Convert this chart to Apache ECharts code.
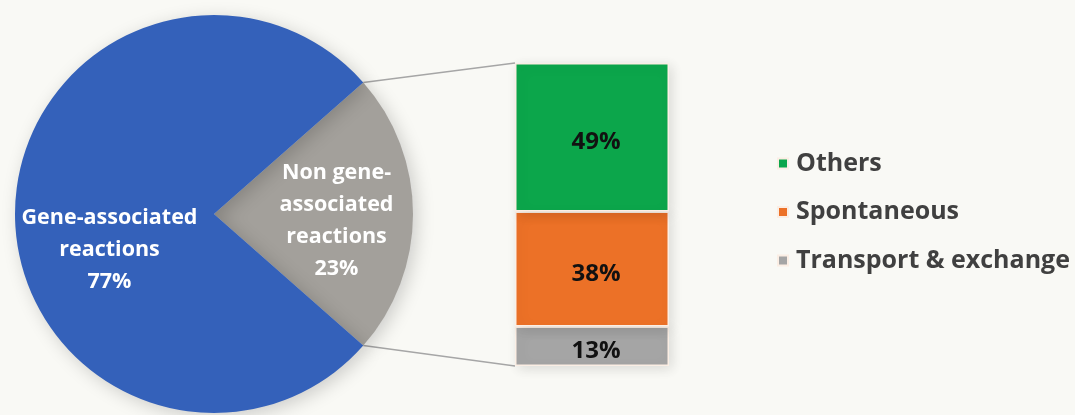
<!DOCTYPE html>
<html>
<head>
<meta charset="utf-8">
<script src="https://cdn.jsdelivr.net/npm/echarts@6/dist/echarts.min.js"></script>
<style>
html,body{margin:0;padding:0;background:#f9f9f5;}
#chart{width:1075px;height:415px;}
</style>
</head>
<body>
<div id="chart"></div>
<script>
const pieCategories = ['Non gene-associated reactions', 'Gene-associated reactions'];
const pieLabels = ['Non gene-\nassociated\nreactions', 'Gene-associated\nreactions'];
const pieValues = [23, 77];
const pieColors = ['#a3a09b', '#3461ba'];

const barCategories = ['Others', 'Spontaneous', 'Transport & exchange'];
const barValues = [49, 38, 13];
const barColors = ['#0ca64b', '#ec7127', '#a5a5a5'];

const chart = echarts.init(document.getElementById('chart'), null, {renderer: 'canvas'});

const pieCenter = [214, 214];
const pieRadius = 199;
const pieTotal = pieValues.reduce((a, b) => a + b, 0);
const halfAngle = pieValues[0] / pieTotal * 360 / 2;

const FONT = 'Open Sans';

// stacked series: bottom first
const barSeries = [];
for (let i = barCategories.length - 1; i >= 0; i--) {
  barSeries.push({
    name: barCategories[i],
    type: 'bar',
    stack: 'total',
    xAxisIndex: 0,
    yAxisIndex: 0,
    barWidth: '100%',
    data: [barValues[i]],
    itemStyle: {
      color: barColors[i],
      borderColor: '#fbeee4',
      borderWidth: 1.5,
      shadowBlur: 12,
      shadowColor: 'rgba(0,0,0,0.12)',
      shadowOffsetX: 3,
      shadowOffsetY: 3
    },
    label: {
      show: true,
      position: 'inside',
      formatter: p => p.value + '%',
      fontFamily: FONT,
      fontWeight: 'bold',
      fontSize: 24,
      color: '#111111',
      offset: [4, 5]
    },
    z: 3
  });
}

const option = {
  backgroundColor: '#f9f9f5',
  animation: false,
  grid: {left: 515, top: 63, width: 154, height: 303},
  xAxis: {type: 'category', data: ['sub'], show: false},
  yAxis: {type: 'value', min: 0, max: 100, show: false},
  legend: {
    orient: 'vertical',
    left: 777,
    top: 151,
    padding: 0,
    itemWidth: 10,
    itemHeight: 10,
    itemGap: 23.5,
    icon: 'rect',
    data: barCategories,
    textStyle: {
      fontFamily: FONT,
      fontWeight: 'bold',
      fontSize: 25,
      color: '#404040',
      padding: [0, 0, 0, 3]
    },
    selectedMode: false
  },
  series: [
    {
      type: 'pie',
      center: pieCenter,
      radius: pieRadius,
      startAngle: halfAngle,
      clockwise: true,
      silent: true,
      data: pieCategories.map((c, i) => ({
        name: c,
        value: pieValues[i],
        itemStyle: {color: pieColors[i]}
      })),
      itemStyle: {
        shadowBlur: 18,
        shadowColor: 'rgba(0,0,0,0.18)',
        shadowOffsetX: 4,
        shadowOffsetY: 4
      },
      label: {
        show: true,
        position: 'inside',
        formatter: p => pieLabels[p.dataIndex] + '\n' + p.value + '%',
        fontFamily: FONT,
        fontWeight: 'bold',
        fontSize: 21.5,
        lineHeight: 32,
        color: '#ffffff',
        align: 'center'
      },
      labelLayout: function (p) {
        if (p.dataIndex === 0) return {dx: 10, dy: 3.5};
        return {dx: -1, dy: 18};
      },
      labelLine: {show: false}
    }
  ].concat(barSeries)
};

chart.setOption(option);

// connector lines from the grey slice edges to the stacked bar corners
function drawConnectors() {
  const a = halfAngle * Math.PI / 180;
  const p1 = [pieCenter[0] + pieRadius * Math.cos(a), pieCenter[1] - pieRadius * Math.sin(a)];
  const p2 = [pieCenter[0] + pieRadius * Math.cos(a), pieCenter[1] + pieRadius * Math.sin(a)];
  const grid = chart.getModel().getComponent('grid', 0).coordinateSystem.getRect();
  const topLeft = [grid.x, chart.convertToPixel({yAxisIndex: 0}, 100)];
  const botLeft = [grid.x, chart.convertToPixel({yAxisIndex: 0}, 0)];
  chart.setOption({
    graphic: [
      {type: 'line', shape: {x1: p1[0], y1: p1[1], x2: topLeft[0], y2: topLeft[1]},
       style: {stroke: '#a6a6a6', lineWidth: 1.5}, z: 1},
      {type: 'line', shape: {x1: p2[0], y1: p2[1], x2: botLeft[0], y2: botLeft[1]},
       style: {stroke: '#a6a6a6', lineWidth: 1.5}, z: 1}
    ]
  });
}
drawConnectors();
</script>
</body>
</html>
